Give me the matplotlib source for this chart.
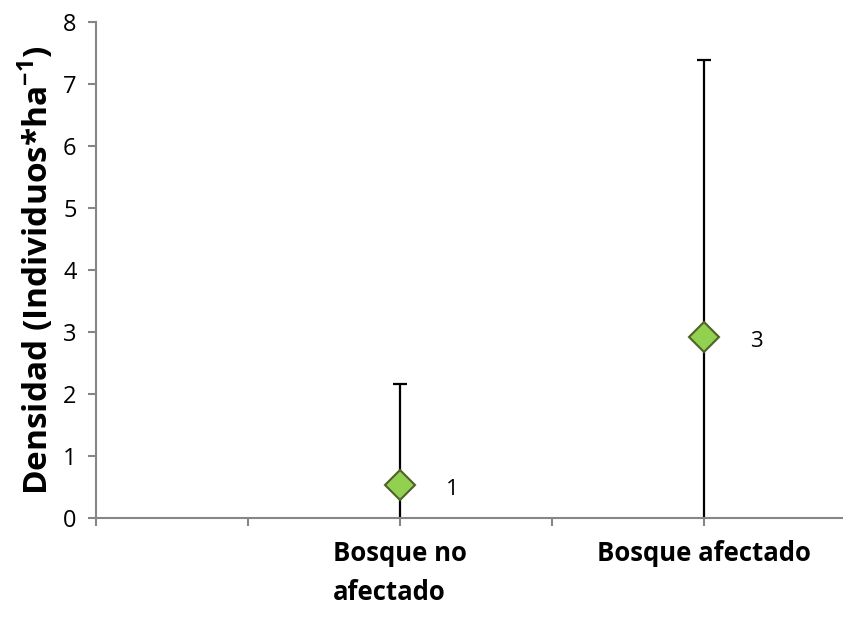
import matplotlib
matplotlib.use('Agg')
import matplotlib.pyplot as plt

plt.rcParams['font.family'] = ['Open Sans', 'DejaVu Sans']
plt.rcParams['mathtext.fontset'] = 'custom'
plt.rcParams['mathtext.bf'] = 'Open Sans:bold'
plt.rcParams['mathtext.rm'] = 'Open Sans'

# data
categories = ['Bosque no\nafectado', 'Bosque afectado']
positions = [2, 4]
densidad = [0.53, 2.92]
error = [1.63, 4.47]
etiquetas = ['1', '3']

fig = plt.figure(figsize=(8.43, 6.26), dpi=100)
ax = fig.add_axes([96 / 843, 1 - 518 / 626, 1 - 96 / 843, (518 - 22) / 626])

ax.errorbar(positions, densidad, yerr=error, fmt='none', ecolor='black',
            elinewidth=1.6, capsize=5, capthick=1.6, zorder=2)
ax.plot(positions, densidad, linestyle='none', marker='D', markersize=15.5,
        markerfacecolor='#92D050', markeredgecolor='#4F6228',
        markeredgewidth=1.5, zorder=3)

for x, y, t in zip(positions, densidad, etiquetas):
    ax.annotate(t, (x, y), xytext=(33, -3), textcoords='offset points',
                fontsize=16, va='center', ha='left')

ax.set_xlim(0, (843 - 96) / 152)
ax.set_ylim(0, 8)
ax.set_yticks(range(0, 9))
ax.set_xticks([0, 1, 2, 3, 4])
ax.set_xticklabels([])

for x, lab in zip(positions, categories):
    ax.text(x, -0.36, lab, ha='center', va='top', multialignment='left',
            fontsize=18.5, fontweight='bold', linespacing=1.55)

for side in ['top', 'right']:
    ax.spines[side].set_visible(False)
for side in ['left', 'bottom']:
    ax.spines[side].set_color('#868686')
    ax.spines[side].set_linewidth(1.5)

ax.tick_params(axis='both', direction='out', color='#868686', width=1.5,
               length=6, labelsize=17)
ax.tick_params(axis='y', pad=8)

ax.set_ylabel('Densidad (Individuos*ha$^{\\mathbf{-1}}$)', fontsize=24,
              fontweight='bold', labelpad=5)

fig.savefig('out.png', dpi=100)
